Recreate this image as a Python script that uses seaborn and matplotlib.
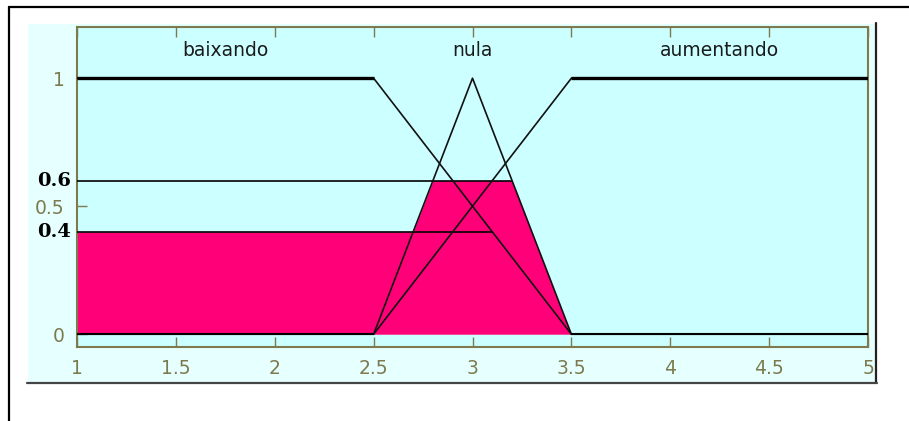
import numpy as np
import pandas as pd
import matplotlib
matplotlib.use("Agg")
import matplotlib.pyplot as plt
from matplotlib.patches import Rectangle
from matplotlib.lines import Line2D
import seaborn as sns

# Membership function breakpoints (universe of discourse 1..5)
x_points = [1.0, 2.5, 3.0, 3.5, 5.0]
mf_baixando = [1.0, 1.0, 0.5, 0.0, 0.0]
mf_nula = [0.0, 0.0, 1.0, 0.0, 0.0]
mf_aumentando = [0.0, 0.0, 0.5, 1.0, 1.0]
set_names = ["baixando", "nula", "aumentando"]
label_x = [1.75, 3.0, 4.25]

# Firing strengths of the rules that clip the output sets
level_baixando = 0.4
level_nula = 0.6

x_ticks = [1, 1.5, 2, 2.5, 3, 3.5, 4, 4.5, 5]
x_tick_labels = ["1", "1.5", "2", "2.5", "3", "3.5", "4", "4.5", "5"]
y_ticks = [0, 0.5, 1]
y_tick_labels = ["0", "0.5", "1"]

sns.set_style("white")
plt.rcParams["font.family"] = ["DejaVu Sans"]

OLIVE = "#7d7a4e"
CYAN = "#ccffff"
PINK = "#ff0078"

fig = plt.figure(figsize=(9.09, 4.21), dpi=100)
fig.patch.set_facecolor("white")

# Window panel behind the axes
fig.patches.append(Rectangle((28 / 909, 1 - 383 / 421), 848 / 909, 359 / 421,
                             transform=fig.transFigure, facecolor="#e6ffff",
                             edgecolor="none", zorder=-5))
fig.lines.append(Line2D([876 / 909, 876 / 909], [1 - 383 / 421, 1 - 23 / 421],
                        transform=fig.transFigure, color="#222222", lw=1.6))
fig.lines.append(Line2D([27 / 909, 877 / 909], [1 - 383 / 421, 1 - 383 / 421],
                        transform=fig.transFigure, color="#444444", lw=1.6))
# Outer frame lines
fig.lines.append(Line2D([9 / 909, 1.0], [1 - 7 / 421, 1 - 7 / 421],
                        transform=fig.transFigure, color="black", lw=1.6))
fig.lines.append(Line2D([9 / 909, 9 / 909], [0.0, 1 - 7 / 421],
                        transform=fig.transFigure, color="black", lw=1.6))

ax = fig.add_axes([77 / 909, 1 - 347 / 421, 791 / 909, 320 / 421])
ax.set_zorder(1)
ax.set_facecolor(CYAN)

# Aggregated (clipped) output region
grid = np.unique(np.concatenate([np.linspace(1, 5, 2001), x_points]))
mu_b = np.interp(grid, x_points, mf_baixando)
mu_n = np.interp(grid, x_points, mf_nula)
aggregated = np.maximum(np.minimum(mu_b, level_baixando), np.minimum(mu_n, level_nula))
ax.fill_between(grid, 0, aggregated, color=PINK, lw=0, zorder=2)

# Clip level lines, drawn until each set drops below its level
for mu, level in [(mu_b, level_baixando), (mu_n, level_nula)]:
    x_end = grid[mu >= level - 1e-9].max()
    ax.plot([grid[0], x_end], [level, level], color="black", lw=1.2, zorder=3)

# Membership functions
frames = []
for name, ys in zip(set_names, [mf_baixando, mf_nula, mf_aumentando]):
    frames.append(pd.DataFrame({"x": x_points, "mu": ys, "set": name}))
df = pd.concat(frames, ignore_index=True)
# nula is only drawn over its support
df = df[~((df["set"] == "nula") & ((df["x"] < 2.5) | (df["x"] > 3.5)))]
sns.lineplot(data=df, x="x", y="mu", units="set", estimator=None, sort=False,
             color="#111111", lw=1.2, ax=ax, zorder=4, legend=False)

# Plateau segments are drawn heavier
for name, ys in zip(set_names, [mf_baixando, mf_nula, mf_aumentando]):
    if name == "nula":
        continue
    xs = np.array(x_points)
    ys = np.array(ys)
    for val, lw in [(1.0, 2.4), (0.0, 1.5)]:
        for i in range(len(xs) - 1):
            if ys[i] == val and ys[i + 1] == val and xs[i] != xs[i + 1]:
                ax.plot([xs[i], xs[i + 1]], [val, val], color="black", lw=lw,
                        zorder=4, solid_capstyle="butt")

for name, lx in zip(set_names, label_x):
    ax.text(lx, 1.11, name, ha="center", va="center", fontsize=13.5, color="#1a1a1a")

# Bold labels for the firing strengths
for level in [level_nula, level_baixando]:
    ax.text(-0.007, level, f"{level:.1f}", transform=ax.get_yaxis_transform(),
            ha="right", va="center", fontsize=14, fontweight="bold",
            family="DejaVu Serif", color="black")

ax.set_xlim(1, 5)
ax.set_ylim(-0.05, 1.2)
ax.set_xticks(x_ticks)
ax.set_xticklabels(x_tick_labels)
ax.set_yticks(y_ticks)
ax.set_yticklabels(y_tick_labels)
ax.set_xlabel("")
ax.set_ylabel("")
ax.tick_params(axis="x", direction="in", length=7, width=1.0, color=OLIVE,
               labelcolor=OLIVE, labelsize=13.5, pad=9, top=True, bottom=True)
ax.tick_params(axis="y", direction="in", length=7, width=1.0, color=OLIVE,
               labelcolor=OLIVE, labelsize=13.5, pad=9, left=True, right=False)
for sp in ax.spines.values():
    sp.set_visible(True)
    sp.set_color(OLIVE)
    sp.set_linewidth(1.5)

fig.savefig("out.png", dpi=100)
